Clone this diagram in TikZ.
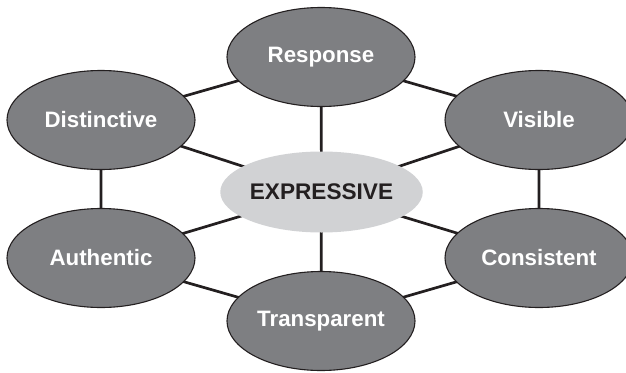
\documentclass[tikz,border=0pt]{standalone}
\usepackage{fontspec}
\setmainfont{Liberation Sans}
\usetikzlibrary{shapes.geometric}
\definecolor{ovalgray}{HTML}{7E7F82}
\definecolor{coregray}{HTML}{D1D2D4}
\definecolor{inkdark}{HTML}{231F20}
\tikzset{
  outer/.style={ellipse, draw=inkdark, line width=1.1pt, fill=ovalgray,
    minimum width=188pt, minimum height=99pt, inner sep=0pt,
    text=white, font=\bfseries\fontsize{22.3}{26}\selectfont},
  core/.style={ellipse, fill=coregray, draw=none,
    minimum width=199pt, minimum height=81pt, inner sep=0pt,
    text=inkdark, font=\bfseries\fontsize{22.6}{26}\selectfont},
  link/.style={draw=inkdark, line width=2.7pt}
}
\begin{document}
\begin{tikzpicture}[x=1pt,y=-1pt]
\useasboundingbox (0,0) rectangle (626,372);
\coordinate (cR) at (321,57);
\coordinate (cV) at (539,120);
\coordinate (cC) at (539,258);
\coordinate (cT) at (321,321);
\coordinate (cA) at (101,258);
\coordinate (cD) at (101,120);
\coordinate (cE) at (321.5,192);
% links
\draw[link] (cR) -- (cV) -- (cC) -- (cT) -- (cA) -- (cD) -- cycle;
\foreach \p in {cR,cV,cC,cT,cA,cD} \draw[link] (cE) -- (\p);
% nodes
\node[outer] (resp) at (cR) {Response};
\node[outer] (vis) at (cV) {Visible};
\node[outer] (cons) at (cC) {Consistent};
\node[outer] (trans) at (cT) {Transparent};
\node[outer] (auth) at (cA) {Authentic};
\node[outer] (dist) at (cD) {Distinctive};
\node[core] (expr) at (cE) {EXPRESSIVE};
\end{tikzpicture}
\end{document}
